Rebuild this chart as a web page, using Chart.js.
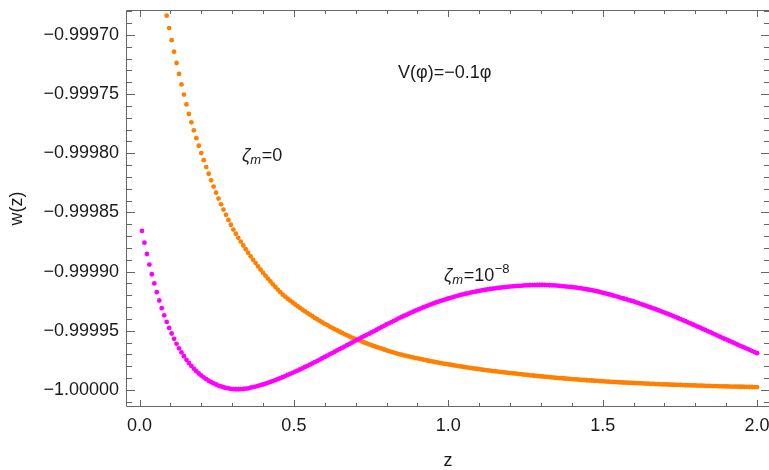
<!DOCTYPE html>
<html>
<head>
<meta charset="utf-8">
<script src="https://cdn.jsdelivr.net/npm/chart.js@4.4.1/dist/chart.umd.min.js"></script>
<style>
  html, body { margin: 0; padding: 0; background: #fff; }
  #wrap { width: 769px; height: 470px; }
</style>
</head>
<body>
<div id="wrap"><canvas id="myChart" width="769" height="470"></canvas></div>
<script>
// z grid of the sampled points
const z = [
  0.008,0.016,0.024,0.032,0.040,0.048,0.056,0.064,0.072,0.080,
  0.088,0.096,0.104,0.112,0.120,0.128,0.136,0.144,0.152,0.160,
  0.168,0.176,0.184,0.192,0.200,0.208,0.216,0.224,0.232,0.240,
  0.248,0.256,0.264,0.272,0.280,0.288,0.296,0.304,0.312,0.320,
  0.328,0.336,0.344,0.352,0.360,0.368,0.376,0.384,0.392,0.400,
  0.408,0.416,0.424,0.432,0.440,0.448,0.456,0.464,0.472,0.480,
  0.488,0.496,0.504,0.512,0.520,0.528,0.536,0.544,0.552,0.560,
  0.568,0.576,0.584,0.592,0.600,0.608,0.616,0.624,0.632,0.640,
  0.648,0.656,0.664,0.672,0.680,0.688,0.696,0.704,0.712,0.720,
  0.728,0.736,0.744,0.752,0.760,0.768,0.776,0.784,0.792,0.800,
  0.808,0.816,0.824,0.832,0.840,0.848,0.856,0.864,0.872,0.880,
  0.888,0.896,0.904,0.912,0.920,0.928,0.936,0.944,0.952,0.960,
  0.968,0.976,0.984,0.992,1.000,1.008,1.016,1.024,1.032,1.040,
  1.048,1.056,1.064,1.072,1.080,1.088,1.096,1.104,1.112,1.120,
  1.128,1.136,1.144,1.152,1.160,1.168,1.176,1.184,1.192,1.200,
  1.208,1.216,1.224,1.232,1.240,1.248,1.256,1.264,1.272,1.280,
  1.288,1.296,1.304,1.312,1.320,1.328,1.336,1.344,1.352,1.360,
  1.368,1.376,1.384,1.392,1.400,1.408,1.416,1.424,1.432,1.440,
  1.448,1.456,1.464,1.472,1.480,1.488,1.496,1.504,1.512,1.520,
  1.528,1.536,1.544,1.552,1.560,1.568,1.576,1.584,1.592,1.600,
  1.608,1.616,1.624,1.632,1.640,1.648,1.656,1.664,1.672,1.680,
  1.688,1.696,1.704,1.712,1.720,1.728,1.736,1.744,1.752,1.760,
  1.768,1.776,1.784,1.792,1.800,1.808,1.816,1.824,1.832,1.840,
  1.848,1.856,1.864,1.872,1.880,1.888,1.896,1.904,1.912,1.920,
  1.928,1.936,1.944,1.952,1.960,1.968,1.976,1.984,1.992,2.000
];

// zeta_m = 0 (orange), visible from z = 0.088 on
const wOrange = [
  -0.9996837,-0.9996942,-0.9997044,-0.9997142,-0.9997237,-0.9997329,-0.9997418,-0.9997504,-0.9997587,-0.9997668,
  -0.9997738,-0.9997806,-0.9997872,-0.9997936,-0.9997998,-0.9998058,-0.9998116,-0.9998173,-0.9998228,-0.9998281,
  -0.9998333,-0.9998383,-0.9998431,-0.9998476,-0.9998520,-0.9998563,-0.9998604,-0.9998645,-0.9998680,-0.9998714,
  -0.9998747,-0.9998779,-0.9998810,-0.9998841,-0.9998871,-0.9998900,-0.9998928,-0.9998956,-0.9998983,-0.9999009,
  -0.9999034,-0.9999059,-0.9999083,-0.9999107,-0.9999130,-0.9999152,-0.9999174,-0.9999195,-0.9999212,-0.9999229,
  -0.9999245,-0.9999261,-0.9999277,-0.9999292,-0.9999307,-0.9999322,-0.9999336,-0.9999350,-0.9999364,-0.9999377,
  -0.9999391,-0.9999404,-0.9999416,-0.9999429,-0.9999441,-0.9999452,-0.9999464,-0.9999475,-0.9999486,-0.9999497,
  -0.9999508,-0.9999518,-0.9999528,-0.9999538,-0.9999548,-0.9999557,-0.9999566,-0.9999574,-0.9999583,-0.9999591,
  -0.9999599,-0.9999607,-0.9999615,-0.9999622,-0.9999630,-0.9999637,-0.9999644,-0.9999651,-0.9999658,-0.9999665,
  -0.9999672,-0.9999678,-0.9999684,-0.9999691,-0.9999697,-0.9999702,-0.9999707,-0.9999712,-0.9999717,-0.9999722,
  -0.9999726,-0.9999731,-0.9999735,-0.9999740,-0.9999744,-0.9999748,-0.9999753,-0.9999757,-0.9999761,-0.9999765,
  -0.9999769,-0.9999773,-0.9999777,-0.9999780,-0.9999784,-0.9999787,-0.9999791,-0.9999794,-0.9999798,-0.9999801,
  -0.9999804,-0.9999808,-0.9999811,-0.9999814,-0.9999817,-0.9999820,-0.9999823,-0.9999826,-0.9999829,-0.9999832,
  -0.9999834,-0.9999837,-0.9999840,-0.9999842,-0.9999845,-0.9999847,-0.9999850,-0.9999852,-0.9999855,-0.9999857,
  -0.9999859,-0.9999861,-0.9999864,-0.9999866,-0.9999869,-0.9999871,-0.9999873,-0.9999876,-0.9999878,-0.9999880,
  -0.9999882,-0.9999884,-0.9999886,-0.9999888,-0.9999890,-0.9999892,-0.9999894,-0.9999896,-0.9999898,-0.9999900,
  -0.9999901,-0.9999903,-0.9999905,-0.9999907,-0.9999908,-0.9999910,-0.9999911,-0.9999913,-0.9999915,-0.9999916,
  -0.9999918,-0.9999919,-0.9999920,-0.9999922,-0.9999923,-0.9999925,-0.9999926,-0.9999927,-0.9999929,-0.9999930,
  -0.9999931,-0.9999932,-0.9999933,-0.9999935,-0.9999936,-0.9999937,-0.9999938,-0.9999939,-0.9999940,-0.9999941,
  -0.9999942,-0.9999943,-0.9999944,-0.9999945,-0.9999946,-0.9999947,-0.9999948,-0.9999949,-0.9999950,-0.9999951,
  -0.9999952,-0.9999953,-0.9999953,-0.9999954,-0.9999955,-0.9999956,-0.9999957,-0.9999957,-0.9999958,-0.9999959,
  -0.9999960,-0.9999960,-0.9999961,-0.9999962,-0.9999962,-0.9999963,-0.9999964,-0.9999964,-0.9999965,-0.9999966,
  -0.9999966,-0.9999967,-0.9999967,-0.9999968,-0.9999969,-0.9999969,-0.9999970,-0.9999970,-0.9999971,-0.9999971,
  -0.9999972,-0.9999972,-0.9999973,-0.9999973,-0.9999974,-0.9999974,-0.9999975,-0.9999975,-0.9999976,-0.9999976
];

// zeta_m = 1e-8 (magenta)
const wMagenta = [
  -0.9998656,-0.9998755,-0.9998851,-0.9998940,-0.9999022,-0.9999100,-0.9999174,-0.9999244,-0.9999309,-0.9999369,
  -0.9999425,-0.9999476,-0.9999523,-0.9999568,-0.9999610,-0.9999648,-0.9999683,-0.9999715,-0.9999745,-0.9999772,
  -0.9999797,-0.9999820,-0.9999841,-0.9999861,-0.9999878,-0.9999894,-0.9999909,-0.9999922,-0.9999934,-0.9999945,
  -0.9999954,-0.9999963,-0.9999970,-0.9999977,-0.9999983,-0.9999987,-0.9999991,-0.9999993,-0.9999994,-0.9999994,
  -0.9999993,-0.9999992,-0.9999989,-0.9999986,-0.9999981,-0.9999976,-0.9999971,-0.9999965,-0.9999959,-0.9999954,
  -0.9999947,-0.9999940,-0.9999932,-0.9999925,-0.9999917,-0.9999909,-0.9999900,-0.9999892,-0.9999883,-0.9999873,
  -0.9999864,-0.9999855,-0.9999845,-0.9999836,-0.9999827,-0.9999817,-0.9999806,-0.9999796,-0.9999786,-0.9999776,
  -0.9999765,-0.9999754,-0.9999743,-0.9999732,-0.9999721,-0.9999710,-0.9999699,-0.9999688,-0.9999677,-0.9999666,
  -0.9999655,-0.9999644,-0.9999633,-0.9999622,-0.9999611,-0.9999600,-0.9999589,-0.9999578,-0.9999567,-0.9999556,
  -0.9999545,-0.9999534,-0.9999524,-0.9999513,-0.9999502,-0.9999491,-0.9999480,-0.9999469,-0.9999458,-0.9999447,
  -0.9999437,-0.9999426,-0.9999416,-0.9999405,-0.9999395,-0.9999385,-0.9999375,-0.9999366,-0.9999356,-0.9999346,
  -0.9999337,-0.9999328,-0.9999319,-0.9999310,-0.9999301,-0.9999293,-0.9999285,-0.9999277,-0.9999269,-0.9999261,
  -0.9999254,-0.9999247,-0.9999241,-0.9999234,-0.9999227,-0.9999221,-0.9999215,-0.9999209,-0.9999203,-0.9999197,
  -0.9999192,-0.9999187,-0.9999183,-0.9999178,-0.9999173,-0.9999169,-0.9999165,-0.9999161,-0.9999157,-0.9999153,
  -0.9999150,-0.9999147,-0.9999144,-0.9999141,-0.9999138,-0.9999136,-0.9999133,-0.9999131,-0.9999128,-0.9999126,
  -0.9999124,-0.9999123,-0.9999121,-0.9999120,-0.9999118,-0.9999117,-0.9999116,-0.9999115,-0.9999114,-0.9999114,
  -0.9999113,-0.9999113,-0.9999113,-0.9999113,-0.9999114,-0.9999115,-0.9999116,-0.9999117,-0.9999118,-0.9999120,
  -0.9999122,-0.9999124,-0.9999126,-0.9999128,-0.9999130,-0.9999133,-0.9999136,-0.9999139,-0.9999142,-0.9999145,
  -0.9999149,-0.9999153,-0.9999157,-0.9999161,-0.9999165,-0.9999170,-0.9999176,-0.9999181,-0.9999186,-0.9999191,
  -0.9999197,-0.9999203,-0.9999209,-0.9999215,-0.9999221,-0.9999227,-0.9999233,-0.9999240,-0.9999246,-0.9999252,
  -0.9999259,-0.9999266,-0.9999274,-0.9999281,-0.9999288,-0.9999296,-0.9999303,-0.9999311,-0.9999318,-0.9999326,
  -0.9999334,-0.9999342,-0.9999350,-0.9999358,-0.9999366,-0.9999375,-0.9999384,-0.9999392,-0.9999401,-0.9999410,
  -0.9999419,-0.9999428,-0.9999438,-0.9999447,-0.9999456,-0.9999465,-0.9999474,-0.9999484,-0.9999493,-0.9999502,
  -0.9999512,-0.9999521,-0.9999531,-0.9999540,-0.9999550,-0.9999559,-0.9999569,-0.9999578,-0.9999588,-0.9999597,
  -0.9999606,-0.9999616,-0.9999625,-0.9999634,-0.9999643,-0.9999652,-0.9999661,-0.9999671,-0.9999680,-0.9999689
];

// axis ticks
const xMajorTicks = [0, 0.5, 1, 1.5, 2];
const yMajorTicks = [-1, -0.99995, -0.9999, -0.99985, -0.9998, -0.99975, -0.9997];

const xMinorTicks = [];
for (let n = 0; n <= 20; n++) if (n % 5 !== 0) xMinorTicks.push(n / 10);
const yMinorTicks = [];
for (let n = -100001; n <= -99968; n++) if (n % 5 !== 0) yMinorTicks.push(n / 100000);

const FONT = '"Liberation Sans", Arial, sans-serif';
const TEXT = '#1a1a1a';
const FRAME = '#666';

const zOrange = z.slice(z.length - wOrange.length);

// frame with inward ticks + text labels (right frame edge falls just outside the picture)
const framePlugin = {
  id: 'frame',
  afterDraw(chart) {
    const ctx = chart.ctx;
    const a = chart.chartArea;
    const xs = chart.scales.x, ys = chart.scales.y;
    ctx.save();
    ctx.strokeStyle = FRAME;
    ctx.lineWidth = 1;
    ctx.beginPath();
    ctx.moveTo(a.right, a.top + 0.5);
    ctx.lineTo(a.left - 0.5, a.top + 0.5);
    ctx.lineTo(a.left - 0.5, a.bottom - 0.5);
    ctx.lineTo(a.right, a.bottom - 0.5);
    ctx.stroke();

    ctx.beginPath();
    const xTick = (v, len) => {
      const px = Math.round(xs.getPixelForValue(v)) + 0.5;
      ctx.moveTo(px, a.bottom); ctx.lineTo(px, a.bottom - len);
      ctx.moveTo(px, a.top); ctx.lineTo(px, a.top + len);
    };
    const yTick = (v, len) => {
      const py = Math.round(ys.getPixelForValue(v)) + 0.5;
      ctx.moveTo(a.left, py); ctx.lineTo(a.left + len, py);
      ctx.moveTo(a.right, py); ctx.lineTo(a.right - len, py);
    };
    xMajorTicks.forEach(v => xTick(v, 7));
    xMinorTicks.forEach(v => xTick(v, 4));
    yMajorTicks.forEach(v => yTick(v, 8));
    yMinorTicks.forEach(v => yTick(v, 5));
    ctx.stroke();

    // annotations
    ctx.fillStyle = TEXT;
    ctx.textBaseline = 'alphabetic';
    ctx.textAlign = 'left';
    ctx.font = '18px ' + FONT;
    ctx.fillText('V(φ)=−0.1φ', 398, 78);

    const zetaLabel = (x, y, rest, sup) => {
      ctx.font = 'italic 18px ' + FONT;
      ctx.fillText('ζ', x, y);
      x += ctx.measureText('ζ').width;
      ctx.font = 'italic 13px ' + FONT;
      ctx.fillText('m', x, y + 3);
      x += ctx.measureText('m').width + 0.5;
      ctx.font = '18px ' + FONT;
      ctx.fillText(rest, x, y);
      x += ctx.measureText(rest).width;
      if (sup) {
        ctx.font = '13px ' + FONT;
        ctx.fillText(sup, x + 0.5, y - 8);
      }
    };
    zetaLabel(242, 161, '=0');
    zetaLabel(444, 281, '=10', '−8');
    ctx.restore();
  }
};

const ctx = document.getElementById('myChart').getContext('2d');
const myChart = new Chart(ctx, {
  type: 'scatter',
  data: {
    datasets: [
      {
        label: 'ζm=10⁻⁸',
        data: z.map((v, i) => ({ x: v, y: wMagenta[i] })),
        backgroundColor: '#ff00ff',
        borderWidth: 0,
        pointRadius: 2.4
      },
      {
        label: 'ζm=0',
        data: zOrange.map((v, i) => ({ x: v, y: wOrange[i] })),
        backgroundColor: '#ff8000',
        borderWidth: 0,
        pointRadius: 2.4
      }
    ]
  },
  options: {
    responsive: false,
    animation: false,
    devicePixelRatio: 1,
    layout: { autoPadding: false, padding: { top: 10, right: 0, left: 0, bottom: 0 } },
    plugins: { legend: { display: false }, tooltip: { enabled: false } },
    scales: {
      x: {
        type: 'linear',
        min: -0.0405,
        max: 2.0388,
        grid: { display: false, drawTicks: false },
        border: { display: false },
        afterBuildTicks: s => { s.ticks = xMajorTicks.map(v => ({ value: v })); },
        afterFit: s => { s.height = 63; s.paddingLeft = 0; s.paddingRight = 0; },
        ticks: {
          color: TEXT,
          font: { family: FONT, size: 18 },
          padding: 8,
          maxRotation: 0,
          autoSkip: false,
          callback: v => v.toFixed(1)
        },
        title: {
          display: true,
          text: 'z',
          color: TEXT,
          font: { family: FONT, size: 18 },
          padding: { top: 0, bottom: -2 }
        }
      },
      y: {
        type: 'linear',
        min: -1.0000144,
        max: -0.9996789,
        grid: { display: false, drawTicks: false },
        border: { display: false },
        afterBuildTicks: s => { s.ticks = yMajorTicks.map(v => ({ value: v })); },
        afterFit: s => { s.width = 127; s.paddingTop = 0; s.paddingBottom = 0; },
        ticks: {
          color: TEXT,
          font: { family: FONT, size: 18 },
          padding: 8,
          autoSkip: false,
          callback: v => v.toFixed(5).replace('-', '−')
        },
        title: {
          display: true,
          text: 'w(z)',
          color: TEXT,
          font: { family: FONT, size: 18 },
          padding: { top: 6, bottom: 0 }
        }
      }
    }
  },
  plugins: [framePlugin]
});
</script>
</body>
</html>
